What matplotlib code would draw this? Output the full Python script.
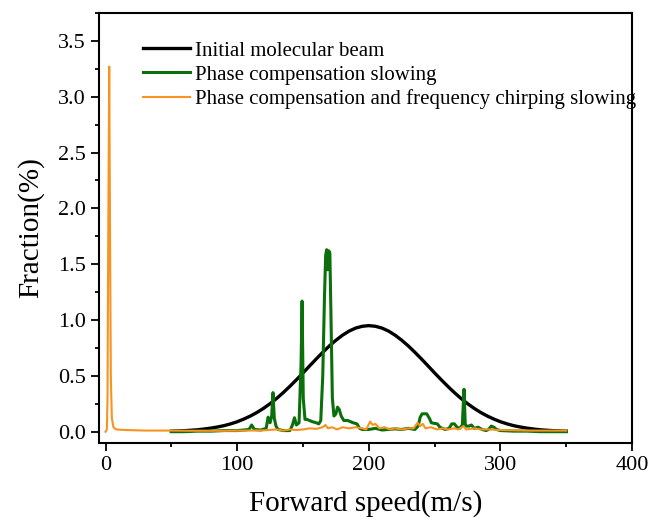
import matplotlib
matplotlib.use("Agg")
import matplotlib.pyplot as plt
from matplotlib.ticker import MultipleLocator, FormatStrFormatter

plt.rcParams['font.family'] = ['Liberation Serif', 'DejaVu Serif']

# Initial molecular beam (read every 5 m/s)
beam_x = list(range(50, 355, 5))
beam_y = [0.005, 0.007, 0.009, 0.013, 0.017, 0.024, 0.032, 0.042, 0.054, 0.070,
          0.089, 0.113, 0.140, 0.172, 0.209, 0.251, 0.298, 0.350, 0.406, 0.465,
          0.526, 0.589, 0.651, 0.711, 0.768, 0.819, 0.864, 0.901, 0.928, 0.944,
          0.950,
          0.944, 0.928, 0.901, 0.864, 0.819, 0.768, 0.711, 0.651, 0.589, 0.526,
          0.465, 0.406, 0.350, 0.298, 0.251, 0.209, 0.172, 0.140, 0.113, 0.089,
          0.070, 0.054, 0.042, 0.032, 0.024, 0.017, 0.013, 0.009, 0.007, 0.005]

# Phase compensation slowing
phase_x = [50, 60, 70, 80, 90, 100, 105, 109, 111, 113,
           118, 122, 123.5, 125, 126.2, 127.2, 128.2, 129.5, 131, 135,
           140, 142, 143.5, 145, 147, 148.5, 149.3, 150.2, 151.5, 153,
           155, 157, 160, 162, 163.5, 165, 166.3, 167.2, 168, 168.8,
           169.6, 170.4, 171.3, 172.3, 173.5, 175, 176.2, 177.5, 179, 181,
           184, 188, 191, 193, 195, 200, 205, 210, 215, 220,
           225, 230, 235, 237.5, 239, 240.5, 242, 244, 246, 247.5,
           249.5, 252, 254, 256, 258, 261, 263, 265, 267, 269,
           271, 272.3, 273.3, 274.5, 276, 278, 280, 283, 286, 289,
           291, 293, 295, 297, 300, 310, 320, 330, 340, 350]
phase_y = [0.0, 0.0, 0.005, 0.005, 0.01, 0.01, 0.015, 0.02, 0.06, 0.02,
           0.015, 0.03, 0.13, 0.08, 0.14, 0.35, 0.12, 0.05, 0.02, 0.01,
           0.01, 0.06, 0.125, 0.06, 0.08, 0.6, 1.17, 0.3, 0.11, 0.11,
           0.10, 0.09, 0.08, 0.07, 0.10, 0.5, 1.2, 1.58, 1.63, 1.45,
           1.62, 1.6, 1.0, 0.3, 0.14, 0.16, 0.22, 0.2, 0.14, 0.10,
           0.10, 0.08, 0.07, 0.03, 0.02, 0.02, 0.03, 0.015, 0.02, 0.025,
           0.02, 0.03, 0.02, 0.05, 0.13, 0.16, 0.16, 0.16, 0.12, 0.08,
           0.075, 0.07, 0.04, 0.03, 0.02, 0.03, 0.07, 0.07, 0.04, 0.03,
           0.06, 0.38, 0.05, 0.05, 0.05, 0.06, 0.03, 0.04, 0.02, 0.01,
           0.02, 0.05, 0.04, 0.02, 0.01, 0.005, 0.005, 0.0, 0.0, 0.0]

# Phase compensation and frequency chirping slowing
chirp_x = [0, 1, 1.5, 2.0, 2.8, 3.4, 4.0, 4.8, 6, 8,
           15, 30, 50, 70, 90, 110, 120, 130, 135, 140,
           145, 150, 155, 160, 165, 167, 169, 172, 176, 180,
           185, 190, 195, 198, 201, 203, 205, 208, 212, 216,
           220, 225, 230, 234, 237, 239, 241, 243, 247, 252,
           256, 260, 265, 268, 272, 274, 280, 285, 290, 300,
           320, 350]
chirp_y = [0.0, 0.02, 0.3, 1.6, 3.27, 1.8, 0.5, 0.12, 0.04, 0.02,
           0.015, 0.01, 0.01, 0.008, 0.008, 0.01, 0.012, 0.02, 0.01, 0.02,
           0.015, 0.02, 0.03, 0.025, 0.04, 0.06, 0.03, 0.04, 0.02, 0.04,
           0.03, 0.04, 0.03, 0.02, 0.09, 0.06, 0.07, 0.03, 0.04, 0.02,
           0.03, 0.02, 0.03, 0.03, 0.08, 0.05, 0.07, 0.03, 0.04, 0.02,
           0.03, 0.02, 0.03, 0.02, 0.05, 0.02, 0.03, 0.02, 0.02, 0.015,
           0.01, 0.01]

fig = plt.figure(figsize=(6.51, 5.21), dpi=100)
ax = fig.add_axes([0.152, 0.150, 0.819, 0.825])

ax.plot(beam_x, beam_y, color='black', lw=2.4, label='Initial molecular beam')
ax.plot(phase_x, phase_y, color='#0b700b', lw=2.2, label='Phase compensation slowing')
ax.plot(chirp_x, chirp_y, color='#f7931e', lw=1.5,
        label='Phase compensation and frequency chirping slowing')

ax.set_xlim(-5, 400)
ax.set_ylim(-0.1, 3.75)
ax.xaxis.set_major_locator(MultipleLocator(100))
ax.xaxis.set_minor_locator(MultipleLocator(50))
ax.yaxis.set_major_locator(MultipleLocator(0.5))
ax.yaxis.set_minor_locator(MultipleLocator(0.25))
ax.yaxis.set_major_formatter(FormatStrFormatter('%.1f'))
ax.tick_params(which='both', direction='out', width=1.3, labelsize=16, top=False, right=False)
ax.tick_params(which='major', length=6)
ax.tick_params(which='minor', length=3)
for sp in ax.spines.values():
    sp.set_linewidth(1.5)

ax.set_xlabel('Forward speed(m/s)', fontsize=21, labelpad=11)
ax.set_ylabel('Fraction(%)', fontsize=21, labelpad=10)

ax.legend(loc='upper left', bbox_to_anchor=(0.082, 0.935), frameon=False, fontsize=15,
          handlelength=2.25, handletextpad=0.25, labelspacing=0.22, borderaxespad=0,
          borderpad=0)

fig.savefig('out.png', dpi=100)
